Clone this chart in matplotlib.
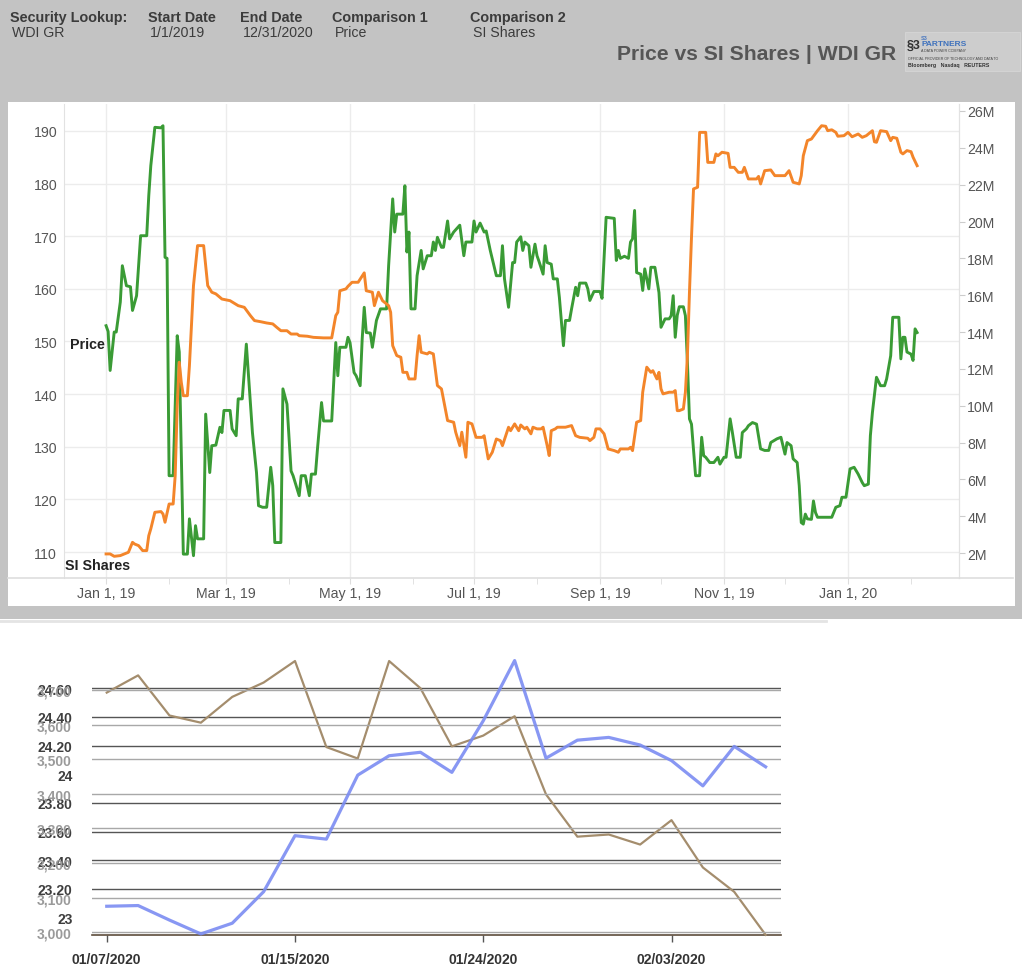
import matplotlib
matplotlib.use('Agg')
import matplotlib.pyplot as plt
import matplotlib.dates as mdates
from matplotlib.patches import Rectangle
from matplotlib.lines import Line2D
import pandas as pd

plt.rcParams['font.family'] = ['Liberation Sans', 'DejaVu Sans']

# ---------------- data: top chart (days since 2019-01-01) ----------------
price_day = [0, 1, 2, 4, 5, 7, 8, 10, 12, 13,
             15, 17, 20, 21, 22, 24, 27, 28, 29, 30,
             31, 33, 35, 36, 38, 40, 41, 43, 44, 45,
             48, 49, 51, 52, 54, 56, 57, 58, 61, 62,
             64, 65, 67, 69, 72, 74, 75, 77, 79, 81,
             82, 83, 86, 87, 89, 91, 92, 95, 96, 98,
             100, 101, 103, 104, 106, 107, 111, 113, 114, 115,
             118, 119, 120, 122, 123, 125, 126, 127, 128, 130,
             131, 133, 135, 138, 139, 141, 142, 143, 146, 147,
             148, 149, 150, 152, 153, 155, 156, 158, 160, 161,
             162, 163, 165, 166, 168, 169, 171, 174, 176, 177,
             180, 181, 182, 184, 186, 187, 189, 190, 192, 194,
             195, 196, 198, 200, 201, 202, 204, 205, 206, 208,
             209, 211, 212, 213, 215, 216, 217, 219, 220, 222,
             223, 225, 226, 228, 229, 231, 232, 233, 236, 237,
             238, 240, 243, 244, 246, 250, 251, 252, 253, 255,
             257, 258, 259, 260, 261, 263, 264, 265, 267, 268,
             270, 272, 273, 275, 277, 278, 279, 280, 281, 282,
             284, 285, 286, 287, 288, 290, 292, 293, 294, 295,
             297, 299, 301, 302, 304, 305, 307, 308, 310, 312,
             313, 315, 316, 318, 320, 322, 324, 326, 327, 330,
             332, 333, 334, 335, 337, 338, 340, 341, 342, 343,
             344, 345, 347, 348, 349, 350, 357, 359, 361, 362,
             364, 366, 368, 370, 372, 373, 375, 376, 377, 379,
             381, 383, 384, 386, 387, 390, 391, 392, 393, 394,
             396, 397, 398, 399]
price_val = [153.0, 151.9, 144.5, 151.8, 151.8, 157.5, 164.4, 160.6, 160.4, 155.9,
             158.7, 170.1, 170.1, 177.7, 183.4, 190.7, 190.6, 191.0, 166.0, 165.8,
             124.5, 124.5, 151.1, 148.0, 109.6, 109.6, 116.3, 109.3, 115.0, 112.5,
             112.5, 136.2, 125.1, 130.2, 130.3, 133.7, 132.7, 136.9, 136.9, 133.4,
             132.1, 139.1, 139.1, 149.5, 132.7, 125.1, 118.8, 118.5, 118.5, 126.1,
             122.6, 111.8, 111.8, 141.0, 138.1, 125.4, 124.5, 120.7, 124.5, 124.5,
             120.7, 124.8, 124.8, 129.6, 138.4, 134.9, 134.9, 149.8, 143.5, 148.9,
             148.9, 150.8, 149.8, 144.1, 143.5, 141.6, 150.5, 156.5, 151.7, 151.6,
             148.9, 154.0, 156.2, 156.2, 164.4, 177.1, 170.8, 174.2, 174.2, 179.6,
             167.0, 170.8, 156.2, 156.2, 162.5, 167.3, 163.8, 166.3, 166.3, 168.9,
             167.3, 169.8, 167.9, 167.9, 172.9, 169.5, 170.8, 172.1, 166.3, 168.9,
             168.9, 172.9, 170.8, 172.5, 170.8, 171.0, 167.3, 165.7, 162.5, 162.5,
             168.2, 161.9, 156.5, 165.0, 165.0, 168.9, 169.9, 167.3, 168.9, 168.2,
             164.1, 168.5, 166.3, 165.2, 162.8, 168.2, 165.0, 164.7, 161.9, 161.9,
             158.4, 149.2, 154.0, 154.0, 156.2, 160.3, 158.7, 161.1, 161.1, 160.0,
             157.8, 159.5, 159.5, 158.2, 173.6, 173.4, 165.4, 167.3, 165.8, 166.2,
             165.8, 168.9, 169.5, 174.9, 163.1, 162.8, 159.7, 163.8, 160.0, 164.1,
             164.1, 159.3, 152.7, 154.3, 154.3, 154.9, 158.7, 150.8, 155.0, 156.6,
             156.6, 154.9, 146.0, 135.3, 134.3, 124.5, 124.5, 131.8, 128.3, 128.0,
             127.0, 127.0, 128.0, 126.7, 128.0, 128.0, 135.3, 133.0, 128.0, 128.0,
             132.7, 133.4, 134.0, 134.6, 134.3, 129.6, 129.3, 129.3, 130.8, 131.5,
             131.8, 130.2, 128.6, 130.8, 130.2, 127.7, 127.0, 122.6, 115.6, 115.3,
             117.2, 116.3, 116.2, 119.7, 117.5, 116.6, 116.6, 118.5, 118.8, 120.4,
             120.4, 125.8, 126.1, 124.8, 123.2, 122.6, 122.9, 132.1, 136.5, 143.2,
             141.6, 141.6, 142.9, 147.3, 154.6, 154.6, 146.7, 150.8, 150.8, 148.0,
             147.6, 146.4, 152.4, 151.7]

si_day = [0, 2, 4, 7, 9, 11, 12, 13, 14, 16,
          18, 20, 21, 22, 24, 27, 28, 29, 31, 33,
          34, 35, 36, 37, 38, 40, 41, 43, 45, 48,
          50, 52, 54, 57, 61, 65, 68, 71, 73, 76,
          79, 82, 84, 86, 89, 91, 94, 95, 99, 102,
          107, 111, 113, 114, 115, 118, 119, 121, 124, 127,
          128, 131, 132, 134, 136, 139, 140, 141, 143, 145,
          146, 148, 149, 152, 153, 154, 155, 158, 159, 161,
          163, 165, 168, 171, 172, 174, 175, 177, 178, 180,
          182, 185, 186, 188, 190, 192, 194, 195, 198, 199,
          201, 203, 204, 206, 207, 209, 210, 212, 214, 215,
          217, 218, 219, 221, 222, 226, 229, 231, 233, 237,
          238, 240, 241, 243, 245, 247, 250, 252, 253, 257,
          258, 259, 261, 263, 264, 266, 268, 269, 271, 272,
          273, 274, 277, 279, 280, 281, 282, 284, 285, 286,
          287, 288, 289, 291, 292, 295, 296, 299, 300, 301,
          303, 306, 307, 309, 311, 313, 314, 316, 320, 321,
          322, 324, 327, 329, 334, 336, 338, 341, 342, 343,
          345, 347, 350, 352, 354, 355, 357, 359, 360, 363,
          365, 367, 370, 372, 374, 377, 378, 379, 381, 384,
          386, 387, 389, 391, 392, 394, 396, 397, 399]
si_val_m = [1.95, 1.95, 1.82, 1.86, 1.95, 2.04, 2.31, 2.58, 2.49, 2.40,
            2.13, 2.13, 2.94, 3.31, 4.21, 4.25, 4.12, 3.67, 4.66, 4.66,
            6.20, 10.0, 12.36, 11.27, 10.54, 10.54, 12.17, 16.52, 18.69, 18.69,
            16.52, 16.16, 16.07, 15.79, 15.70, 15.43, 15.34, 14.89, 14.62, 14.56,
            14.49, 14.44, 14.25, 14.07, 14.07, 13.89, 13.89, 13.80, 13.77, 13.71,
            13.68, 13.68, 14.89, 15.07, 16.24, 16.34, 16.48, 16.70, 16.70, 17.21,
            16.24, 16.16, 15.43, 16.16, 15.70, 15.43, 15.07, 13.26, 12.72, 12.63,
            11.81, 11.81, 11.45, 11.45, 12.72, 13.80, 12.90, 12.81, 12.90, 12.81,
            11.09, 10.91, 9.19, 9.10, 8.56, 7.83, 8.56, 7.20, 9.10, 9.01,
            8.28, 8.28, 8.37, 7.11, 7.47, 8.19, 8.10, 7.83, 8.83, 8.64,
            9.01, 8.64, 8.95, 8.74, 8.83, 8.47, 8.83, 8.74, 8.74, 8.83,
            7.83, 7.29, 8.64, 8.74, 8.83, 8.83, 8.92, 8.37, 8.28, 8.23,
            8.10, 8.28, 8.74, 8.74, 8.47, 7.65, 7.56, 7.47, 7.65, 7.65,
            7.74, 7.56, 9.10, 9.19, 10.73, 12.09, 11.81, 11.90, 11.45, 11.81,
            10.91, 10.64, 10.73, 10.73, 10.82, 9.73, 9.73, 9.82, 10.73, 12.72,
            16.16, 19.14, 21.77, 21.86, 24.84, 24.84, 23.21, 23.21, 23.67, 23.57,
            23.76, 23.70, 22.94, 22.94, 22.67, 22.67, 22.94, 22.31, 22.31, 22.45,
            22.04, 22.76, 22.80, 22.49, 22.49, 22.76, 22.13, 22.04, 22.49, 23.57,
            24.39, 24.48, 24.93, 25.20, 25.17, 24.93, 24.98, 24.84, 24.63, 24.66,
            24.84, 24.60, 24.75, 24.57, 24.66, 24.93, 24.33, 24.30, 24.93, 24.88,
            24.39, 24.57, 24.52, 23.76, 23.67, 23.85, 23.79, 23.49, 23.03]

price_ticks = [110, 120, 130, 140, 150, 160, 170, 180, 190]
si_ticks_m = [2, 4, 6, 8, 10, 12, 14, 16, 18, 20, 22, 24, 26]
month_ticks = ['2019-01-01', '2019-03-01', '2019-05-01', '2019-07-01', '2019-09-01',
               '2019-11-01', '2020-01-01']
month_labels = ['Jan 1, 19', 'Mar 1, 19', 'May 1, 19', 'Jul 1, 19', 'Sep 1, 19',
                'Nov 1, 19', 'Jan 1, 20']

# ---------------- data: bottom chart ----------------
bottom_dates = ['01/07/2020', '01/08/2020', '01/09/2020', '01/10/2020', '01/13/2020',
                '01/14/2020', '01/15/2020', '01/16/2020', '01/17/2020', '01/21/2020',
                '01/22/2020', '01/23/2020', '01/24/2020', '01/27/2020', '01/28/2020',
                '01/29/2020', '01/30/2020', '01/31/2020', '02/03/2020', '02/04/2020',
                '02/05/2020', '02/06/2020']
brown_vals = [24.57, 24.69, 24.41, 24.36, 24.54, 24.64, 24.79, 24.19, 24.11, 24.79,
              24.60, 24.195, 24.27, 24.405, 23.86, 23.565, 23.58, 23.51, 23.68, 23.35,
              23.18, 22.88]
blue_vals = [3075, 3077, 3035, 2995, 3026, 3117, 3279, 3269, 3454, 3510,
             3520, 3462, 3611, 3785, 3503, 3555, 3563, 3541, 3496, 3423,
             3537, 3478]
brown_ticks = [23.0, 23.2, 23.4, 23.6, 23.8, 24.0, 24.2, 24.4, 24.6]
brown_labels = ['23', '23.20', '23.40', '23.60', '23.80', '24', '24.20', '24.40', '24.60']
blue_ticks = [3000, 3100, 3200, 3300, 3400, 3500, 3600, 3700]
bottom_label_idx = [0, 6, 12, 18]

header_labels = ['Security Lookup:', 'Start Date', 'End Date', 'Comparison 1', 'Comparison 2']
header_values = ['WDI GR', '1/1/2019', '12/31/2020', 'Price', 'SI Shares']
title_text = 'Price vs SI Shares | WDI GR'

# ---------------- figure ----------------
W, H = 1022, 978
def fx(px):
    return px / W
def fy(py):
    return 1 - py / H

fig = plt.figure(figsize=(W / 100, H / 100), dpi=100)
fig.patch.set_facecolor('white')
fig.patches.append(Rectangle((0, fy(620)), 1, 620 / H, transform=fig.transFigure,
                             facecolor='#c3c3c3', edgecolor='none', zorder=-10))
fig.patches.append(Rectangle((fx(8), fy(607)), fx(1015) - fx(8), (607 - 103) / H,
                             transform=fig.transFigure, facecolor='white',
                             edgecolor='none', zorder=-9))
fig.add_artist(Line2D([0, fx(826)], [fy(621.5), fy(621.5)], transform=fig.transFigure,
                      color='#e4e4e4', lw=2))

# header
lab_x = [10, 148, 240, 332, 470]
val_x = [12, 150, 243, 335, 473]
for lx, vx, lab, val in zip(lab_x, val_x, header_labels, header_values):
    fig.text(fx(lx), fy(18), lab, ha='left', va='center', fontsize=10.4,
             fontweight='bold', color='#3c3c3c')
    fig.text(fx(vx), fy(33), val, ha='left', va='center', fontsize=10.2,
             color='#3c3c3c')
fig.text(fx(896), fy(54), title_text, ha='right', va='center', fontsize=15.2,
         fontweight='bold', color='#565656')

# logo
fig.patches.append(Rectangle((fx(905), fy(72)), fx(1020) - fx(905), 39 / H,
                             transform=fig.transFigure, facecolor='#cdcdcd',
                             edgecolor='#d8d8d8', lw=0.5, zorder=-8))
fig.text(fx(907), fy(46), '§3', ha='left', va='center', fontsize=9, fontweight='bold',
         color='#333333')
fig.text(fx(921), fy(38), 'S3', ha='left', va='center', fontsize=4, fontweight='bold',
         color='#4a78c0')
fig.text(fx(921), fy(45), 'PARTNERS', ha='left', va='center', fontsize=6,
         fontweight='bold', color='#3f72bd')
fig.text(fx(921), fy(51), 'A DATA POWER COMPANY', ha='left', va='center', fontsize=2.6,
         color='#444444')
fig.text(fx(908), fy(59), 'OFFICIAL PROVIDER OF TECHNOLOGY AND DATA TO', ha='left',
         va='center', fontsize=2.6, color='#444444')
fig.text(fx(908), fy(66), 'Bloomberg   Nasdaq   REUTERS', ha='left', va='center',
         fontsize=3.8, fontweight='bold', color='#333333')

# ---------------- top chart ----------------
base = pd.Timestamp('2019-01-01')
pdates = base + pd.to_timedelta(price_day, unit='D')
sdates = base + pd.to_timedelta(si_day, unit='D')

ax1 = fig.add_axes([fx(64), fy(579), fx(959) - fx(64), fy(105) - fy(579)])
ax1.set_facecolor('none')
ax1.plot(pdates, price_val, color='#3a9b35', lw=2.1, zorder=3, solid_joinstyle='round')
ax1.set_ylim(105.06, 195.13)
ax1.set_xlim(base + pd.Timedelta(days=-20.7), base + pd.Timedelta(days=419.6))
ax1.set_yticks(price_ticks)
ax1.set_yticklabels([str(t) for t in price_ticks])
ax1.tick_params(axis='y', length=0, pad=5, labelsize=10.2, labelcolor='#555555')
ax1.set_xticks([mdates.date2num(pd.Timestamp(d)) for d in month_ticks])
ax1.set_xticklabels(month_labels, va='baseline')
ax1.xaxis.set_minor_locator(mdates.MonthLocator())
ax1.tick_params(axis='x', which='both', length=4, color='#dddddd', pad=9.5,
                labelsize=10.2, labelcolor='#555555')
ax1.grid(which='major', color='#ececec', lw=1)
for s in ['top', 'bottom']:
    ax1.spines[s].set_visible(False)
for s in ['left', 'right']:
    ax1.spines[s].set_color('#e2e2e2')

ax2 = ax1.twinx()
ax2.plot(sdates, [v * 1e6 for v in si_val_m], color='#f3852a', lw=2.1, zorder=3,
         solid_joinstyle='round')
ax2.set_ylim(0.643e6, 26.38e6)
ax2.set_yticks([t * 1e6 for t in si_ticks_m])
ax2.set_yticklabels([f"{t}M" for t in si_ticks_m])
ax2.tick_params(axis='y', length=4, color='#cccccc', pad=2, labelsize=10.2,
                labelcolor='#555555')
for s in ['top', 'bottom', 'left']:
    ax2.spines[s].set_visible(False)
ax2.spines['right'].set_color('#e2e2e2')

fig.add_artist(Line2D([fx(8), fx(1013)], [fy(579), fy(579)], transform=fig.transFigure,
                      color='#dedede', lw=1.2))
fig.text(fx(70), fy(345), 'Price', ha='left', va='center', fontsize=10.3,
         fontweight='bold', color='#222222')
fig.text(fx(65), fy(566), 'SI Shares', ha='left', va='center', fontsize=10.3,
         fontweight='bold', color='#222222')

# ---------------- bottom chart ----------------
xs = list(range(len(bottom_dates)))
ax3 = fig.add_axes([fx(92), fy(936), fx(781) - fx(92), fy(650) - fy(936)])
ax3.set_facecolor('none')
ax3.set_xlim(-0.47, 21.49)
ax3.set_ylim(22.879, 24.874)
for t in brown_ticks:
    if abs(t - round(t)) > 1e-6:
        ax3.axhline(t, color='#555555', lw=1.0, zorder=1)
ax3.plot(xs, brown_vals, color='#a48d6d', lw=1.6, zorder=3, clip_on=False)
ax3.set_yticks(brown_ticks)
ax3.set_yticklabels(brown_labels)
ax3.tick_params(axis='y', length=0, pad=14, labelsize=10, labelcolor='#3e3e3e')
for lbl in ax3.get_yticklabels():
    lbl.set_fontweight('bold')
ax3.set_xticks(bottom_label_idx)
ax3.set_xticklabels([bottom_dates[i] for i in bottom_label_idx], fontweight='bold')
ax3.tick_params(axis='x', length=5, width=1, color='#555555', pad=7, labelsize=10,
                labelcolor='#333333')
for s in ['top', 'left', 'right']:
    ax3.spines[s].set_visible(False)
ax3.spines['bottom'].set_color('#5d4d3c')
ax3.spines['bottom'].set_linewidth(1.2)

ax4 = ax3.twinx()
ax4.set_ylim(2991.9, 3818.5)
for t in blue_ticks:
    ax4.axhline(t, color='#a8a8a8', lw=1.0, zorder=1)
ax4.plot(xs, blue_vals, color='#7b8cf2', lw=2.3, alpha=0.9, zorder=3, clip_on=False)
ax4.yaxis.tick_left()
ax4.set_yticks(blue_ticks)
ax4.set_yticklabels([f"{t:,}" for t in blue_ticks])
ax4.tick_params(axis='y', length=0, pad=15, labelsize=10, labelcolor='#9a9a9a')
for lbl in ax4.get_yticklabels():
    lbl.set_fontweight('bold')
for s in ['top', 'left', 'right', 'bottom']:
    ax4.spines[s].set_visible(False)

fig.savefig('out.png', dpi=100)
